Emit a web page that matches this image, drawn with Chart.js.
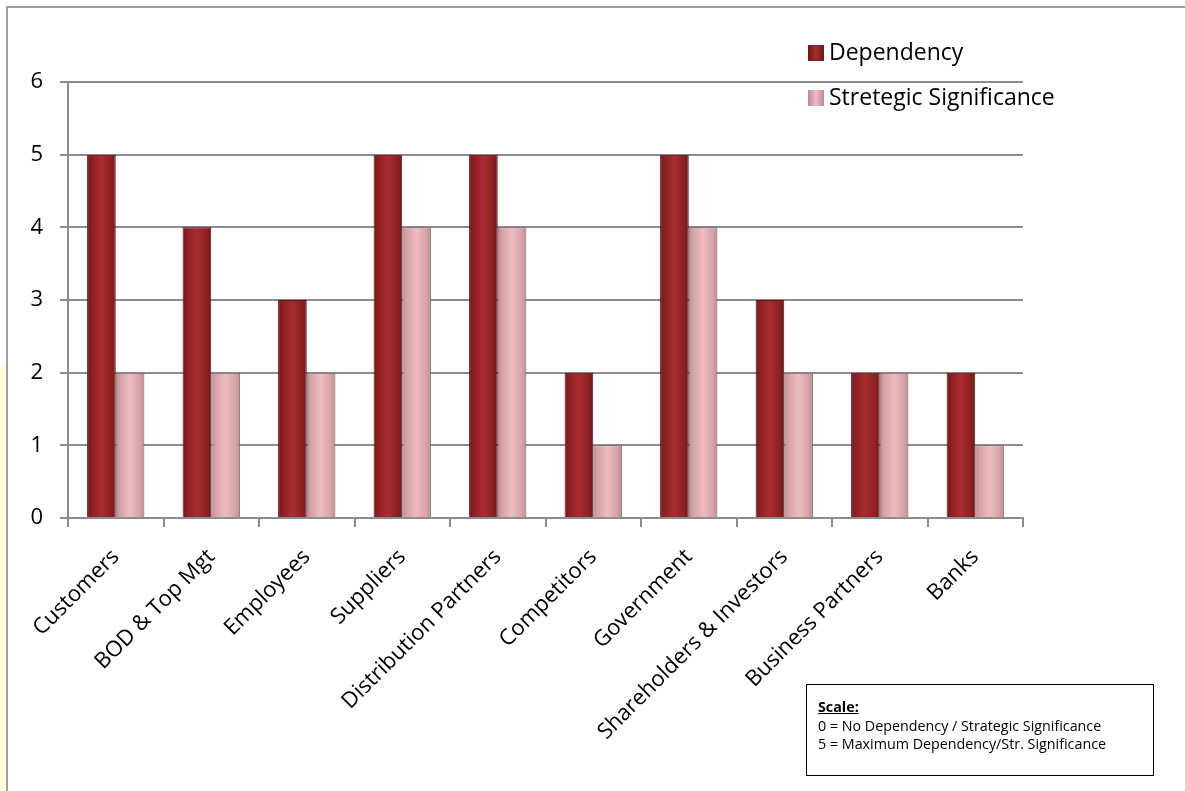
<!DOCTYPE html>
<html>
<head>
<meta charset="utf-8">
<script src="https://cdn.jsdelivr.net/npm/chart.js@4"></script>
<style>
  body { margin: 0; background: #fff; }
  #wrap { position: relative; width: 1185px; height: 791px; overflow: hidden; }
  #strip { position: absolute; left: 0; top: 365px; width: 6px; height: 426px; background: #fffde0; }
  #frame { position: absolute; left: 6px; top: 6px; right: -2px; bottom: -2px; border-left: 2px solid #a0a0a0; border-top: 2px solid #a0a0a0; }
  canvas { position: absolute; left: 0; top: 0; }
  #scale { position: absolute; left: 806px; top: 684px; width: 348px; height: 92px; border: 1.5px solid #000;
           font-family: "Open Sans", sans-serif; font-size: 14.3px; line-height: 18.5px; box-sizing: border-box; padding: 13px 0 0 11px; }
  #scale b { text-decoration: underline; }
</style>
</head>
<body>
<div id="wrap">
  <div id="strip"></div>
  <div id="frame"></div>
  <canvas id="myChart" width="1185" height="791"></canvas>
  <div id="scale"><b>Scale:</b><br>0 = No Dependency / Strategic Significance<br>5 = Maximum Dependency/Str. Significance</div>
</div>
<script>
//DATI DEL GRAFICO
const categorie = ["Customers", "BOD & Top Mgt", "Employees", "Suppliers", "Distribution Partners",
                   "Competitors", "Government", "Shareholders & Investors", "Business Partners", "Banks"];
const dependency = [5, 4, 3, 5, 5, 2, 5, 3, 2, 2];
const significance = [2, 2, 2, 4, 4, 1, 4, 2, 2, 1];
const yTicks = [0, 1, 2, 3, 4, 5, 6];

const FONT = "'Open Sans', sans-serif";
const CAT_PCT = 0.6;

//colori: bordo, centro, intermedio
const coloriDep = ['#6e1618', '#a92c2f', '#8c2023'];
const coloriSig = ['#b88a8f', '#eebcc0', '#d6a2a7'];

//gradiente orizzontale per ogni barra, calcolato dalla scala x
function gradiente(colori){
    return function(c){
        const chart = c.chart;
        const sx = chart.scales.x;
        if (!chart.chartArea || !sx || !sx.width) return colori[1];
        const n = chart.data.labels.length;
        const larghezza = sx.width / n * CAT_PCT / 2;
        const centro = sx.getPixelForValue(c.dataIndex);
        const x0 = centro - larghezza + c.datasetIndex * larghezza;
        const x1 = x0 + larghezza;
        const g = chart.ctx.createLinearGradient(x0, 0, x1, 0);
        g.addColorStop(0, colori[0]);
        g.addColorStop(0.15, colori[2]);
        g.addColorStop(0.5, colori[1]);
        g.addColorStop(0.85, colori[2]);
        g.addColorStop(1, colori[0]);
        return g;
    };
}

//legenda disegnata a mano in alto a destra
const legendaPlugin = {
    id: 'legenda',
    afterDraw(chart){
        const ctx = chart.ctx;
        const items = [
            {label: chart.data.datasets[0].label, c: coloriDep, y: 53},
            {label: chart.data.datasets[1].label, c: coloriSig, y: 98}
        ];
        ctx.save();
        items.forEach(it => {
            const g = ctx.createLinearGradient(808, 0, 824, 0);
            g.addColorStop(0, it.c[0]); g.addColorStop(0.5, it.c[1]); g.addColorStop(1, it.c[0]);
            ctx.fillStyle = g;
            ctx.fillRect(808, it.y - 8, 16, 16);
            ctx.fillStyle = '#000';
            ctx.font = '23px ' + FONT;
            ctx.textBaseline = 'middle';
            ctx.textAlign = 'left';
            ctx.fillText(it.label, 829, it.y);
        });
        ctx.restore();
    }
};

const dataChart = {
    labels: categorie,
    datasets: [{
        label: 'Dependency',
        data: dependency,
        backgroundColor: gradiente(coloriDep),
        borderColor: '#5a1214',
        borderWidth: 1
    }, {
        label: 'Stretegic Significance',
        data: significance,
        backgroundColor: gradiente(coloriSig),
        borderColor: '#7e6063',
        borderWidth: 1
    }]
};

const config = {
    type: 'bar',
    data: dataChart,
    plugins: [legendaPlugin],
    options: {
        responsive: false,
        animation: false,
        categoryPercentage: CAT_PCT,
        barPercentage: 1.0,
        layout: { padding: { left: 8, right: 162, top: 82, bottom: 0 } },
        plugins: {
            legend: { display: false },
            tooltip: { enabled: false }
        },
        scales: {
            x: {
                grid: { display: true, drawOnChartArea: false, drawTicks: true, tickLength: 9, color: '#8c8c8c', lineWidth: 2, offset: true },
                border: { color: '#8c8c8c', width: 2 },
                ticks: { color: '#000', font: { family: FONT, size: 22 }, minRotation: 45, maxRotation: 45, padding: 17 },
                afterFit(s){ s.height = 273; }
            },
            y: {
                min: 0, max: 6,
                afterBuildTicks(s){ s.ticks = yTicks.map(v => ({value: v})); },
                grid: { color: '#8c8c8c', lineWidth: 2, tickLength: 8 },
                border: { color: '#8c8c8c', width: 2 },
                ticks: { color: '#000', font: { family: FONT, size: 22 }, padding: 17 },
                afterFit(s){ s.width = 60; }
            }
        }
    }
};

const chart = new Chart(document.getElementById('myChart'), config);
</script>
</body>
</html>
